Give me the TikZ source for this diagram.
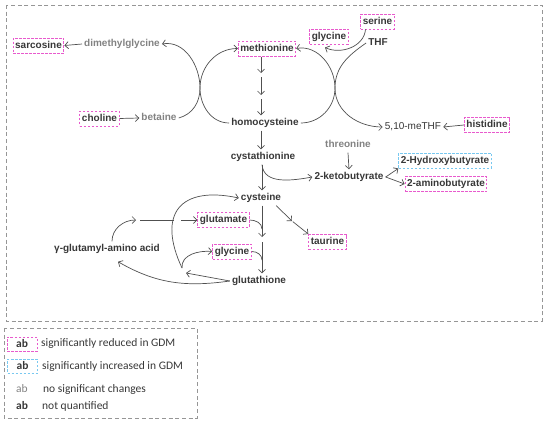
\documentclass[tikz,border=0pt]{standalone}
\usepackage{fontspec}
\setmainfont{Liberation Sans}
\newfontfamily\legfont{Carlito}
\usetikzlibrary{arrows.meta}
\definecolor{ink}{RGB}{55,55,55}
\definecolor{gtxt}{RGB}{130,130,130}
\definecolor{lne}{RGB}{80,80,80}
\definecolor{rpink}{RGB}{232,90,205}
\definecolor{iblue}{RGB}{120,200,240}
\definecolor{frame}{RGB}{150,150,150}
\tikzset{
  base/.style={font=\bfseries\fontsize{10}{12}\selectfont, inner xsep=2pt, inner ysep=2.75pt, text height=7.5pt, text depth=2pt},
  reduced/.style={base, draw=rpink, dash pattern=on 2.5pt off 1.5pt, line width=1pt},
  raised/.style={base, draw=iblue, dash pattern=on 2.5pt off 1.5pt, line width=1pt},
  nochange/.style={base, text=gtxt},
  arr/.style={draw=lne, line width=0.7pt, -{Straight Barb[length=3.5pt,width=7pt]}},
  ln/.style={draw=lne, line width=0.7pt},
  outline/.style={draw=frame, line width=1pt, dash pattern=on 4pt off 2.7pt},
  legtxt/.style={font=\legfont\fontsize{11.5}{13}\selectfont, anchor=west, inner sep=0pt},
  legab/.style={font=\legfont\bfseries\fontsize{11.5}{13}\selectfont, minimum width=30pt, minimum height=14pt, inner sep=0pt},
}
\begin{document}
\begin{tikzpicture}[x=1pt, y=1pt, color=ink]
  \useasboundingbox (0,0) rectangle (550,-423);
  \draw[outline] (6,-5) rectangle (542,-321);
  \draw[outline] (4,-328) rectangle (197,-418);

  % metabolites
  \node[reduced] (sarcosine) at (38.5,-45.5) {sarcosine};
  \node[nochange] (dimeth) at (122,-44) {dimethylglycine};
  \node[reduced] (choline) at (99.5,-118.5) {choline};
  \node[nochange] (betaine) at (159,-118) {betaine};
  \node[reduced] (methionine) at (267,-48.5) {methionine};
  \node[reduced] (glycineA) at (329,-36.5) {glycine};
  \node[reduced] (serine) at (377.5,-21.5) {serine};
  \node[base] (THF) at (378,-43) {THF};
  \node[reduced] (histidine) at (487,-125) {histidine};
  \node[base, font=\fontsize{10}{12}\selectfont] (meTHF) at (413,-127) {5,10-meTHF};
  \node[base] (homocysteine) at (265,-123) {homocysteine};
  \node[base] (cystathionine) at (263,-157) {cystathionine};
  \node[nochange] (threonine) at (348,-145) {threonine};
  \node[base] (ketobut) at (349,-177) {2-ketobutyrate};
  \node[raised] (hydroxy) at (445,-160.5) {2-Hydroxybutyrate};
  \node[reduced] (aminobut) at (446,-184) {2-aminobutyrate};
  \node[base] (cysteine) at (261,-198) {cysteine};
  \node[reduced] (taurine) at (327.5,-242) {taurine};
  \node[reduced] (glutamate) at (223.5,-220) {glutamate};
  \node[reduced] (glycineB) at (232,-251.5) {glycine};
  \node[base] (glutathione) at (259,-281) {glutathione};
  \node[base] (gamma) at (107,-249) {γ-glutamyl-amino acid};

  % helper points
  \coordinate (xl) at (200,-88);
  \coordinate (xr) at (335,-88);
  \coordinate (g1) at (261,-75);
  \coordinate (g2) at (261,-97);
  \coordinate (t1) at (292,-221);
  \coordinate (j0) at (262,-229);
  \coordinate (j1) at (262,-237);
  \coordinate (j2) at (262,-242);
  \coordinate (j3) at (262,-260);
  \coordinate (J) at (186,-273);
  \coordinate (J2) at (182,-268);
  \coordinate (q1) at (136,-220);
  \coordinate (q2) at (174,-220);
  \coordinate (q3) at (181,-220);

  % methionine cycle
  \draw[arr] (dimeth.west) -- (sarcosine.east);
  \draw[arr] (choline.east) -- (betaine.west);
  \draw[arr] (betaine.east) to[out=15,in=-90] (xl) to[out=90,in=10] (dimeth.east);
  \draw[arr] (homocysteine.west) to[out=180,in=-90] (xl) to[out=90,in=180] (methionine.west);
  \draw[arr] (homocysteine.east) to[out=0,in=-90] (xr) to[out=90,in=10] (methionine.east);
  \draw[arr] (THF.west) to[out=215,in=90] (xr) to[out=-90,in=180] (meTHF.west);
  \draw[arr] ([xshift=-12pt]serine.south) to[out=-95,in=-25] ([shift={(-4pt,-3pt)}]glycineA.south);
  \draw[arr] (histidine.west) -- (meTHF.east);
  \draw[arr, shorten >=2pt] (methionine.south -| g1) -- (g1);
  \draw[arr, shorten <=2pt, shorten >=2pt] (g1) -- (g2);
  \draw[arr, shorten <=2pt] (g2) -- (homocysteine.north -| g2);

  % transsulfuration
  \draw[arr] (homocysteine.south -| g1) -- (cystathionine.north -| g1);
  \draw[arr] (cystathionine.south -| j1) -- (cysteine.north -| j1);
  \draw[arr] (cystathionine.south -| j1) to[out=-85,in=190] (ketobut.west);
  \draw[arr] (threonine.south) -- (ketobut.north);
  \draw[arr] (ketobut.east) -- (hydroxy.south west);
  \draw[arr] (ketobut.east) -- (aminobut.west);
  \draw[arr] ([xshift=-7pt]cysteine.south east) -- (t1);
  \draw[arr, shorten <=1pt] (t1) -- (taurine.north west);

  % glutathione
  \draw[arr] (cysteine.south -| j1) -- (j1);
  \draw[ln] (glutamate.east) to[out=0,in=90] (j0);
  \draw[arr] (j2) -- (glutathione.north -| j2);
  \draw[ln] (glycineB.east) to[out=0,in=90] (j3);
  \draw[arr] ([xshift=5pt]gamma.north) to[out=90,in=180] (q1);
  \draw[ln] ([xshift=4pt]q1) -- (q2);
  \draw[arr] (q3) -- (glutamate.west);
  \draw[arr] (J2) to[out=115,in=168,looseness=1.7] (cysteine.west);
  \draw[arr] (J2) to[out=95,in=175] (glycineB.west);
  \draw[arr] (glutathione.west) -- (J);
  \draw[arr] (glutathione.west) to[out=188,in=-30] ([shift={(11pt,-5pt)}]gamma.south);

  % legend
  \node[legab, draw=rpink, dash pattern=on 2.5pt off 1.5pt, line width=1pt] (keyR) at (22,-344) {ab};
  \node[legab, draw=iblue, dash pattern=on 2.5pt off 1.5pt, line width=1pt] (keyI) at (22.5,-366) {ab};
  \node[legab, text=gtxt, font=\legfont\fontsize{11.5}{13}\selectfont] (keyN) at (22,-389) {ab};
  \node[legab] (keyQ) at (22,-406) {ab};
  \node[legtxt] (txtR) at (41,-343) {significantly reduced in GDM};
  \node[legtxt] (txtI) at (42,-366) {significantly increased in GDM};
  \node[legtxt] (txtN) at (43,-389) {no significant changes};
  \node[legtxt] (txtQ) at (42,-406) {not quantified};
\end{tikzpicture}
\end{document}
